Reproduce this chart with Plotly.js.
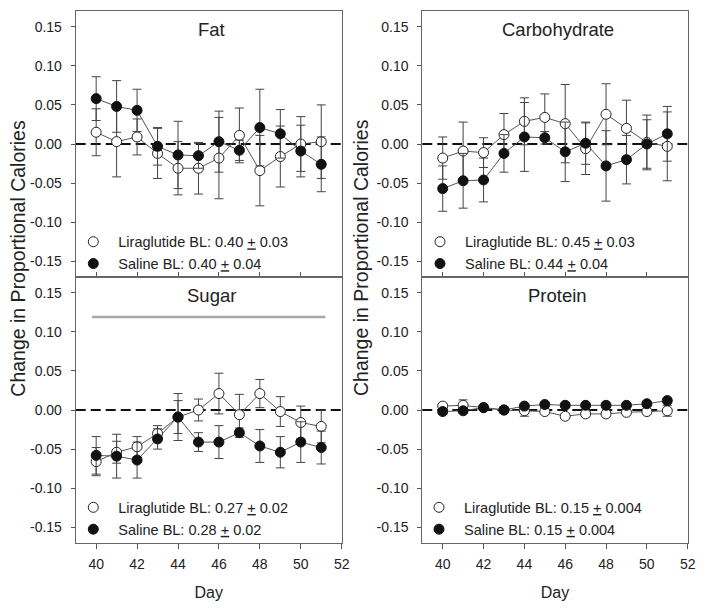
<!DOCTYPE html>
<html>
<head>
<meta charset="utf-8">
<script src="https://cdn.plot.ly/plotly-3.0.1.min.js"></script>
<style>html,body{margin:0;padding:0;background:#fff;}#chart{width:704px;height:612px;}</style>
</head>
<body>
<div id="chart"></div>
<script>
// ---------- data ----------
const days = [40, 41, 42, 43, 44, 45, 46, 47, 48, 49, 50, 51];

const fatLira     = [0.015, 0.003, 0.009, -0.012, -0.031, -0.031, -0.018, 0.011, -0.034, -0.016, 0.000, 0.003];
const fatLiraErr  = [0.030, 0.045, 0.023, 0.032, 0.034, 0.033, 0.052, 0.035, 0.045, 0.039, 0.035, 0.047];
const fatSal      = [0.058, 0.048, 0.043, -0.003, -0.014, -0.015, 0.003, -0.008, 0.021, 0.013, -0.009, -0.026];
const fatSalErr   = [0.028, 0.033, 0.027, 0.024, 0.043, 0.016, 0.039, 0.013, 0.049, 0.031, 0.033, 0.035];

const carbLira    = [-0.018, -0.009, -0.011, 0.012, 0.029, 0.034, 0.026, -0.006, 0.038, 0.020, 0.002, -0.003];
const carbLiraErr = [0.027, 0.037, 0.019, 0.027, 0.030, 0.030, 0.050, 0.033, 0.039, 0.036, 0.035, 0.044];
const carbSal     = [-0.057, -0.047, -0.046, -0.012, 0.009, 0.008, -0.010, 0.001, -0.028, -0.020, 0.000, 0.013];
const carbSalErr  = [0.029, 0.035, 0.028, 0.024, 0.044, 0.008, 0.038, 0.027, 0.045, 0.031, 0.031, 0.035];

const sugLira     = [-0.066, -0.054, -0.047, -0.030, -0.009, 0.000, 0.021, -0.006, 0.021, -0.002, -0.016, -0.021];
const sugLiraErr  = [0.018, 0.014, 0.013, 0.010, 0.021, 0.014, 0.026, 0.026, 0.018, 0.019, 0.021, 0.021];
const sugSal      = [-0.058, -0.059, -0.064, -0.037, -0.009, -0.041, -0.041, -0.029, -0.046, -0.054, -0.041, -0.048];
const sugSalErr   = [0.024, 0.028, 0.023, 0.013, 0.030, 0.012, 0.021, 0.006, 0.021, 0.020, 0.026, 0.021];

const protLira    = [0.005, 0.006, 0.003, 0.000, -0.001, -0.002, -0.008, -0.005, -0.005, -0.003, -0.002, -0.001];
const protLiraErr = [0.003, 0.007, 0.003, 0.003, 0.007, 0.003, 0.003, 0.003, 0.003, 0.003, 0.003, 0.007];
const protSal     = [-0.002, -0.001, 0.003, 0.000, 0.005, 0.007, 0.006, 0.006, 0.006, 0.006, 0.008, 0.012];
const protSalErr  = [0.003, 0.003, 0.003, 0.004, 0.003, 0.003, 0.003, 0.003, 0.003, 0.003, 0.003, 0.003];

// significance bar in Sugar panel
const sugarBarX = [39.8, 51.2];
const sugarBarY = 0.119;

const panelTitles = ['Fat', 'Carbohydrate', 'Sugar', 'Protein'];
const U = '<span style="text-decoration:underline">+</span>';
const liraNames = ['Liraglutide BL: 0.40 ' + U + ' 0.03', 'Liraglutide BL: 0.45 ' + U + ' 0.03',
                   'Liraglutide BL: 0.27 ' + U + ' 0.02', 'Liraglutide BL: 0.15 ' + U + ' 0.004'];
const salNames  = ['Saline BL: 0.40 ' + U + ' 0.04', 'Saline BL: 0.44 ' + U + ' 0.04',
                   'Saline BL: 0.28 ' + U + ' 0.02', 'Saline BL: 0.15 ' + U + ' 0.004'];

const yTickVals = [-0.15, -0.10, -0.05, 0, 0.05, 0.10, 0.15];
const yTickText = ['-0.15', '-0.10', '-0.05', '0.00', '0.05', '0.10', '0.15'];
const xTickVals = [40, 42, 44, 46, 48, 50, 52];
const xTickText = ['40', '42', '44', '46', '48', '50', '52'];
const yTitle = 'Change in Proportional Calories';
const xTitle = 'Day';

// ---------- styling / layout ----------
const FONT = 'Liberation Sans, Arial, Helvetica, sans-serif';
const TXT = '#222';
const panels = [
  {lira: fatLira,  liraErr: fatLiraErr,  sal: fatSal,  salErr: fatSalErr},
  {lira: carbLira, liraErr: carbLiraErr, sal: carbSal, salErr: carbSalErr},
  {lira: sugLira,  liraErr: sugLiraErr,  sal: sugSal,  salErr: sugSalErr},
  {lira: protLira, liraErr: protLiraErr, sal: protSal, salErr: protSalErr}
];

const W = 704, H = 612;
const xDomL = [75.7 / W, 341.7 / W];
const xDomR = [422.3 / W, 687.7 / W];
const yDomT = [1 - 277 / H, 1 - 11 / H];
const yDomB = [1 - 543 / H, 1 - 277 / H];
const doms = [[xDomL, yDomT], [xDomR, yDomT], [xDomL, yDomB], [xDomR, yDomB]];
const legendPos = [[68.3, 225.8], [415.0, 225.8], [68.3, 491.4], [414.0, 491.4]];

const traces = [];
const layout = {
  width: W, height: H,
  margin: {l: 0, r: 0, t: 0, b: 0},
  paper_bgcolor: '#fff', plot_bgcolor: '#fff',
  font: {family: FONT, color: TXT, size: 14},
  showlegend: true,
  shapes: [], annotations: []
};

panels.forEach((p, i) => {
  const n = i + 1;
  const xa = 'x' + (n === 1 ? '' : n), ya = 'y' + (n === 1 ? '' : n);
  const xKey = 'xaxis' + (n === 1 ? '' : n), yKey = 'yaxis' + (n === 1 ? '' : n);
  const lg = 'legend' + (n === 1 ? '' : n);
  const bottom = i >= 2;

  // connecting lines
  [p.lira, p.sal].forEach(v => traces.push({
    type: 'scatter', mode: 'lines', x: days, y: v, xaxis: xa, yaxis: ya,
    line: {color: '#555', width: 1}, showlegend: false, hoverinfo: 'skip', legend: lg
  }));
  // markers with error bars
  traces.push({
    type: 'scatter', mode: 'markers', x: days, y: p.lira, xaxis: xa, yaxis: ya, legend: lg,
    name: liraNames[i],
    marker: {size: 10, color: '#fff', line: {color: '#222', width: 1}},
    error_y: {type: 'data', array: p.liraErr, visible: true, color: '#444', thickness: 1, width: 4.5}
  });
  traces.push({
    type: 'scatter', mode: 'markers', x: days, y: p.sal, xaxis: xa, yaxis: ya, legend: lg,
    name: salNames[i],
    marker: {size: 10, color: '#111', line: {color: '#111', width: 1}},
    error_y: {type: 'data', array: p.salErr, visible: true, color: '#444', thickness: 1, width: 4.5}
  });

  layout[xKey] = {
    domain: doms[i][0], anchor: ya, range: [39, 52],
    tickvals: xTickVals, ticktext: xTickText,
    ticks: bottom ? 'outside' : 'inside', ticklen: 5, tickcolor: '#555', tickwidth: 1,
    showticklabels: bottom, ticklabelstandoff: 3,
    tickfont: {size: 14, color: TXT, family: FONT},
    showline: true, mirror: true, linecolor: '#666', linewidth: 1,
    showgrid: false, zeroline: false
  };
  if (bottom) layout[xKey].title = {text: xTitle, font: {size: 16, color: TXT, family: FONT}, standoff: 16};
  layout[yKey] = {
    domain: doms[i][1], anchor: xa, range: [-0.17, 0.17],
    tickvals: yTickVals, ticktext: yTickText,
    ticks: 'outside', ticklen: 4, tickcolor: '#555', tickwidth: 1, ticklabelstandoff: 6,
    tickfont: {size: 14, color: TXT, family: FONT},
    showline: true, mirror: true, linecolor: '#666', linewidth: 1,
    showgrid: false, zeroline: false
  };
  layout[lg] = {
    x: legendPos[i][0] / W, y: 1 - legendPos[i][1] / H, xanchor: 'left', yanchor: 'top',
    bgcolor: 'rgba(0,0,0,0)', borderwidth: 0, itemwidth: 40, tracegroupgap: 0,
    font: {size: 14.5, color: TXT, family: FONT}, traceorder: 'normal'
  };
  // zero reference line
  layout.shapes.push({
    type: 'line', xref: xa + ' domain', yref: ya, x0: 0, x1: 1, y0: 0, y1: 0,
    line: {color: '#111', width: 2, dash: '10px,5px'}, layer: 'below'
  });
  // panel title
  layout.annotations.push({
    text: panelTitles[i], xref: xa + ' domain', yref: 'paper', x: 0.51,
    y: 1 - (bottom ? 295 : 29.3) / H, xanchor: 'center', yanchor: 'middle',
    showarrow: false, font: {size: 18.5, color: TXT, family: FONT}
  });
});

// significance bar (Sugar)
layout.shapes.push({
  type: 'line', xref: 'x3', yref: 'y3', x0: sugarBarX[0], x1: sugarBarX[1], y0: sugarBarY, y1: sugarBarY,
  line: {color: '#a8a8a8', width: 2.5}
});

// y-axis titles (one per column)
[17.7, 361].forEach(px => layout.annotations.push({
  text: yTitle, xref: 'paper', yref: 'paper', x: px / W, y: 1 - 258 / H,
  xanchor: 'center', yanchor: 'middle', textangle: -90, showarrow: false,
  font: {size: 19.5, color: TXT, family: FONT}
}));

Plotly.newPlot('chart', traces, layout, {staticPlot: true, displayModeBar: false});
</script>
</body>
</html>
